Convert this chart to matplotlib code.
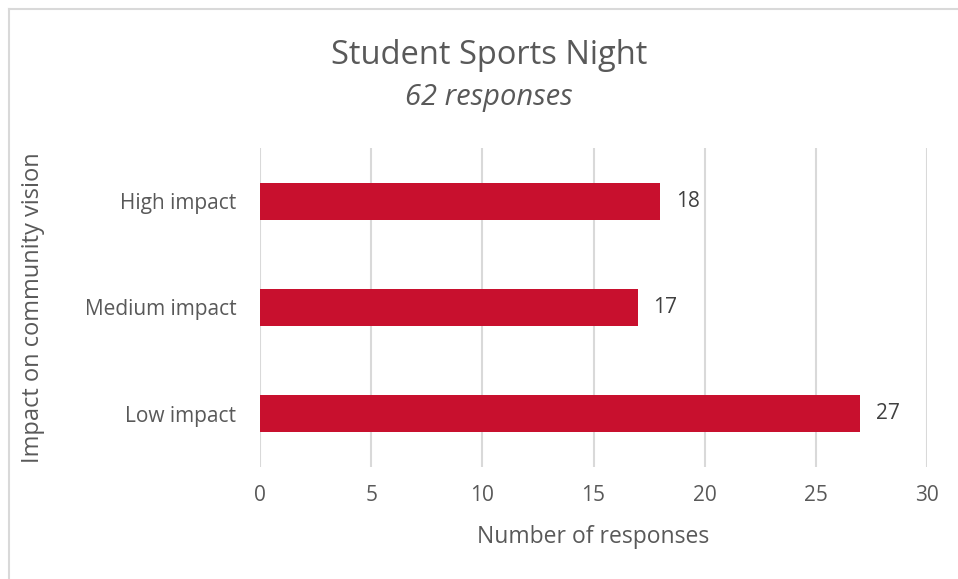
import matplotlib.pyplot as plt
from matplotlib.lines import Line2D

categories = ['Low impact', 'Medium impact', 'High impact']
responses = [27, 17, 18]
x_ticks = [0, 5, 10, 15, 20, 25, 30]

bar_color = '#C8102E'
text_color = '#595959'
grid_color = '#D9D9D9'

plt.rcParams['font.family'] = ['Open Sans', 'DejaVu Sans']

fig = plt.figure(figsize=(9.58, 5.79), dpi=100)
W, H = 958, 579
# axes box in pixels: left 260, right 927, top 148, bottom 467
ax = fig.add_axes([260 / W, 1 - 467 / H, (927 - 260) / W, (467 - 148) / H])

ypos = range(len(categories))
ax.barh(ypos, responses, height=0.35, color=bar_color, zorder=3)
for y, v in zip(ypos, responses):
    ax.text(v + 0.7, y, str(v), va='center', ha='left', fontsize=15, color='#404040')

ax.set_xlim(0, 30)
ax.set_ylim(-0.5, len(categories) - 0.5)
ax.set_xticks(x_ticks)
ax.set_yticks(list(ypos))
ax.set_yticklabels(categories)
ax.tick_params(axis='both', length=0, labelsize=15, labelcolor=text_color)
ax.tick_params(axis='x', pad=13)
ax.tick_params(axis='y', pad=17)
ax.xaxis.grid(True, color=grid_color, linewidth=1.5, zorder=0)
for s in ax.spines.values():
    s.set_visible(False)

ax.set_xlabel('Number of responses', fontsize=16.5, color=text_color)
ax.set_ylabel('Impact on community vision', fontsize=17, color=text_color)
ax.xaxis.set_label_coords(0.5, -(537 - 467) / (467 - 148), transform=ax.transAxes)
ax.xaxis.label.set_va('center')
ax.yaxis.set_label_coords(-(260 - 33) / (927 - 260), 0.5, transform=ax.transAxes)
ax.yaxis.label.set_va('center')

fig.text(489 / W, 1 - 55 / H, 'Student Sports Night', ha='center', va='center',
         fontsize=23.5, color=text_color)
fig.text(489 / W, 1 - 97 / H, '62 responses', ha='center', va='center',
         fontsize=21, style='italic', color=text_color)

# chart area frame (top and left edges only)
fig.add_artist(Line2D([9 / W, 1], [1 - 9 / H, 1 - 9 / H], color='#D9D9D9', linewidth=1.5))
fig.add_artist(Line2D([9 / W, 9 / W], [0, 1 - 9 / H], color='#D9D9D9', linewidth=1.5))

fig.savefig('out.png', dpi=100)
